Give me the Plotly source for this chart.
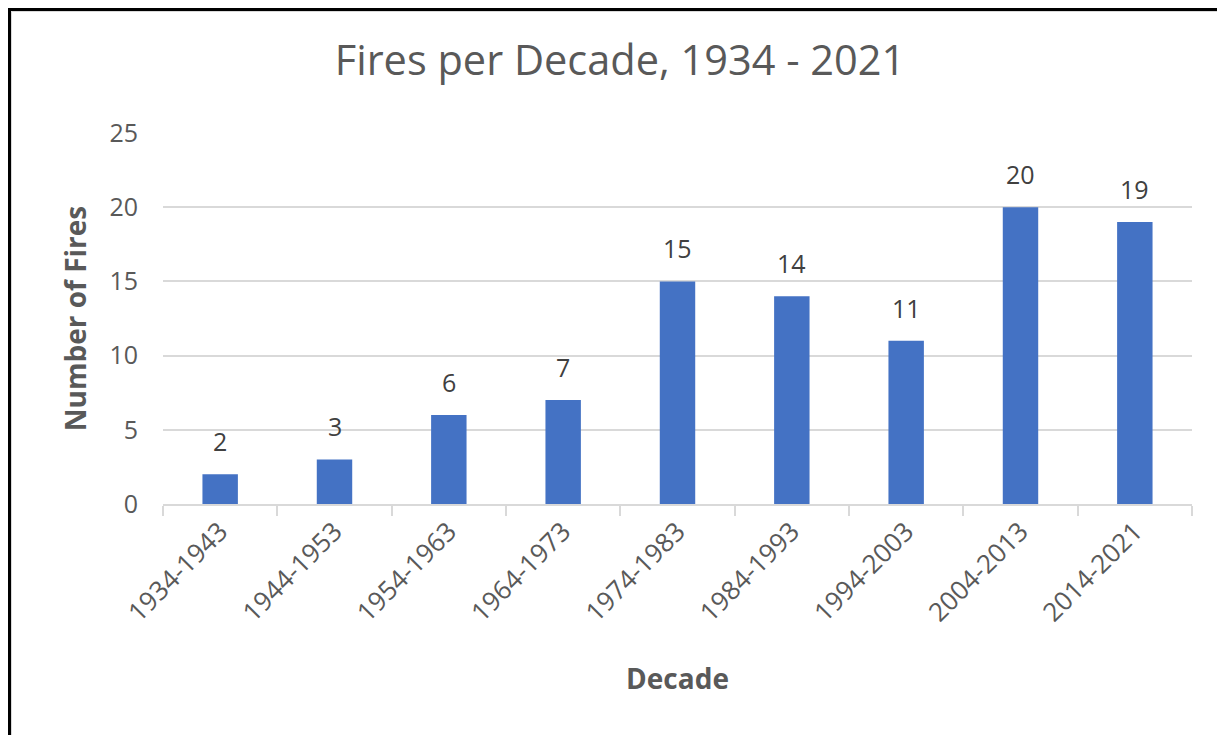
import plotly.graph_objects as go

decades = ["1934-1943", "1944-1953", "1954-1963", "1964-1973", "1974-1983",
           "1984-1993", "1994-2003", "2004-2013", "2014-2021"]
fires = [2, 3, 6, 7, 15, 14, 11, 20, 19]
y_ticks = [0, 5, 10, 15, 20, 25]

# the page body has an 8px margin, so the figure is offset by 8px
OFF = 8
W, H = 1225 - OFF, 735 - OFF
L, R, T, B = 163 - OFF, 1192 - OFF, 133 - OFF, 504 - OFF

FONT = "Open Sans"
GREY = "#595959"

fig = go.Figure()
fig.add_trace(go.Bar(
    x=decades, y=fires,
    marker=dict(color="#4472C4", line=dict(width=0)),
    width=0.31,
    hoverinfo="x+y",
))

for d, v in zip(decades, fires):
    fig.add_annotation(x=d, y=v, text=str(v), showarrow=False,
                       yanchor="bottom", yshift=14,
                       font=dict(family=FONT, size=25, color="#404040"))

def px(xp):
    return (xp - L) / (R - L)

def py(yp):
    return (B - yp) / (B - T)

# outer frame: thick black on left/top, thin grey chart border inside
fig.add_shape(type="line", xref="paper", yref="paper",
              x0=px(1), x1=px(1), y0=py(0), y1=py(740),
              line=dict(color="black", width=4))
fig.add_shape(type="line", xref="paper", yref="paper",
              x0=px(0), x1=px(1230), y0=py(1), y1=py(1),
              line=dict(color="black", width=4))
fig.add_shape(type="line", xref="paper", yref="paper",
              x0=px(3.5), x1=px(3.5), y0=py(3.5), y1=py(740),
              line=dict(color="#d9d9d9", width=1))
fig.add_shape(type="line", xref="paper", yref="paper",
              x0=px(3.5), x1=px(1230), y0=py(3.5), y1=py(3.5),
              line=dict(color="#d9d9d9", width=1))

fig.update_layout(
    width=W, height=H,
    margin=dict(l=L, r=W - R, t=T, b=H - B, autoexpand=False),
    paper_bgcolor="white", plot_bgcolor="white",
    showlegend=False,
    title=dict(text="Fires per Decade, 1934 - 2021", x=px(620 - OFF), xref="paper",
               xanchor="center", y=1 - (60 - OFF) / H, yanchor="middle",
               font=dict(family=FONT, size=41.5, color=GREY)),
    font=dict(family=FONT, color=GREY),
    xaxis=dict(
        tickangle=-45, tickfont=dict(family=FONT, size=26, color=GREY),
        showline=True, linecolor="#d9d9d9", linewidth=1.5,
        ticks="outside", tickson="boundaries", ticklen=10, tickcolor="#d9d9d9",
        tickwidth=1.5, showgrid=False,
        title=dict(text="<b>Decade</b>", font=dict(family=FONT, size=28, color=GREY),
                   standoff=42),
    ),
    yaxis=dict(
        range=[0, 25], tickvals=y_ticks,
        tickfont=dict(family=FONT, size=25, color=GREY),
        showgrid=True, gridcolor="#d9d9d9", gridwidth=1.5,
        zeroline=False, showline=False, ticks="", ticklabelstandoff=24,
        title=dict(text="<b>Number of Fires</b>", font=dict(family=FONT, size=28, color=GREY),
                   standoff=14),
    ),
)

fig.write_html("out.html")
